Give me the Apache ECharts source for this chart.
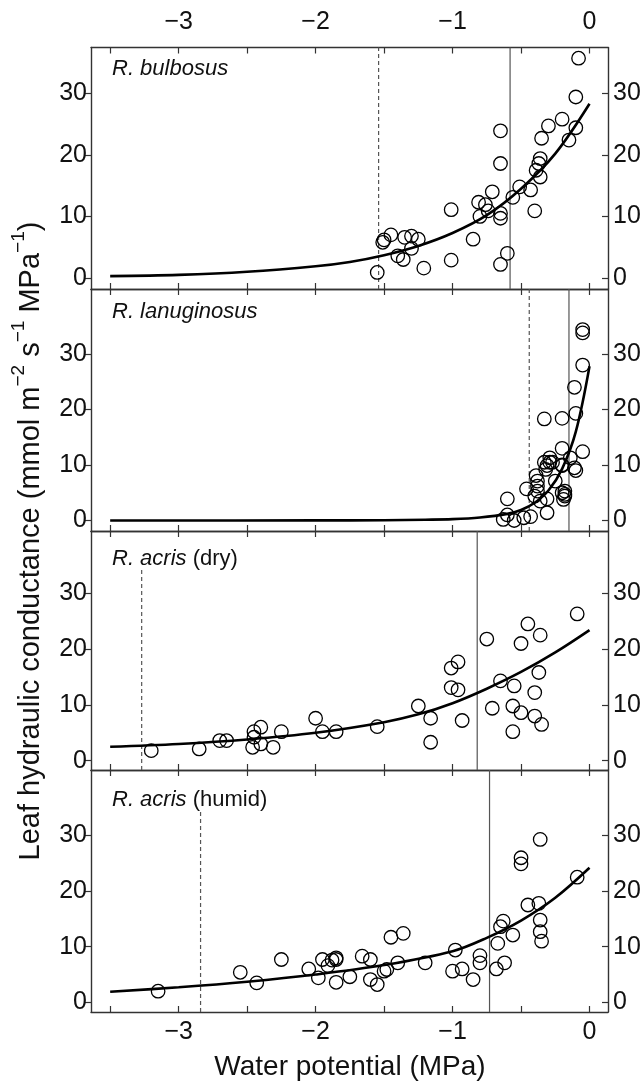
<!DOCTYPE html>
<html>
<head>
<meta charset="utf-8">
<script src="https://cdn.jsdelivr.net/npm/echarts@6/dist/echarts.min.js"></script>
<style>
  html, body { margin: 0; padding: 0; background: #fff; }
  #chart { width: 644px; height: 1081px; }
</style>
</head>
<body>
<div id="chart"></div>
<script>
// shared x axis (water potential, MPa)
const xMin = -3.64, xMax = 0.135;
const xTicks = [-3.5, -3, -2.5, -2, -1.5, -1, -0.5, 0];
const xLabels = [-3, -2, -1, 0];
const yTicks = [0, 10, 20, 30];

const speciesNames = ['R. bulbosus', 'R. lanuginosus', 'R. acris', 'R. acris'];
const speciesNotes = ['', '', '(dry)', '(humid)'];
const yMins = [-1.79, -1.89, -1.67, -1.74];
const yMaxs = [37.44, 41.71, 41.16, 41.78];

// vertical reference lines (MPa)
const solidX = [-0.58, -0.15, -0.82, -0.73];
const dashedX = [-1.54, -0.44, -3.27, -2.84];
const dashedTop = [37.44, 41.71, 34.5, 34.5];

// measured conductance points [water potential, Kleaf]
const bulbosusPts = [[-0.08,35.7],[-0.10,29.4],[-0.10,24.4],[-0.15,22.4],[-0.20,25.8],[-0.30,24.7],[-0.35,22.7],[-0.36,19.4],[-0.37,18.6],[-0.39,17.5],[-0.36,16.4],[-0.43,14.3],[-0.40,10.9],[-0.51,14.8],[-0.56,13.1],[-0.65,23.9],[-0.65,18.6],[-0.65,10.5],[-0.65,9.7],[-0.71,14.0],[-0.76,11.9],[-0.81,12.3],[-0.80,10.0],[-0.74,10.9],[-1.01,11.1],[-0.85,6.3],[-0.60,4.0],[-0.65,2.2],[-1.01,2.9],[-1.21,1.6],[-1.55,0.9],[-1.51,5.8],[-1.50,6.2],[-1.45,7.0],[-1.35,6.6],[-1.30,6.8],[-1.25,6.3],[-1.30,4.8],[-1.40,3.6],[-1.36,3.0]];
const lanuginosusPts = [[-0.05,34.4],[-0.05,33.8],[-0.05,28.0],[-0.11,24.0],[-0.10,19.3],[-0.20,18.4],[-0.33,18.3],[-0.20,13.0],[-0.05,12.4],[-0.14,11.3],[-0.11,9.5],[-0.10,9.0],[-0.20,10.0],[-0.18,5.3],[-0.18,4.4],[-0.19,3.8],[-0.33,10.5],[-0.29,11.3],[-0.27,10.5],[-0.60,3.9],[-0.63,0.2],[-0.60,1.0],[-0.55,0.0],[-0.48,0.5],[-0.43,0.7],[-0.46,5.7],[-0.39,8.1],[-0.38,7.1],[-0.38,6.2],[-0.38,5.3],[-0.40,4.4],[-0.36,3.5],[-0.31,3.9],[-0.31,1.4],[-0.31,9.9],[-0.25,7.1],[-0.20,9.9],[-0.20,5.0],[-0.18,4.7],[-0.32,9.2],[-0.29,10.5]];
const acrisDryPts = [[-0.09,26.3],[-0.45,24.5],[-0.36,22.5],[-0.75,21.8],[-0.50,21.0],[-0.96,17.7],[-1.01,16.6],[-0.37,15.8],[-0.65,14.3],[-0.55,13.4],[-1.01,13.1],[-0.96,12.7],[-0.40,12.2],[-0.71,9.4],[-0.56,9.8],[-0.50,8.6],[-0.40,8.0],[-0.35,6.5],[-0.56,5.2],[-0.93,7.2],[-1.16,7.6],[-1.16,3.3],[-1.25,9.8],[-1.55,6.1],[-1.85,5.2],[-1.95,5.2],[-2.00,7.6],[-2.25,5.2],[-2.31,2.4],[-2.40,6.0],[-2.45,5.2],[-2.45,4.2],[-2.46,2.4],[-2.40,3.0],[-2.65,3.6],[-2.70,3.6],[-2.85,2.1],[-3.20,1.8]];
const acrisHumidPts = [[-0.36,29.3],[-0.50,26.0],[-0.50,24.9],[-0.09,22.5],[-0.45,17.5],[-0.37,17.8],[-0.36,14.8],[-0.36,12.7],[-0.63,14.6],[-0.65,13.6],[-0.56,12.1],[-1.36,12.4],[-1.45,11.7],[-0.35,11.0],[-0.67,10.6],[-0.62,7.1],[-0.68,6.0],[-0.80,8.4],[-0.80,7.1],[-0.85,4.1],[-0.93,6.0],[-1.00,5.6],[-0.98,9.4],[-1.20,7.1],[-1.40,7.1],[-1.48,5.9],[-1.50,5.6],[-1.55,3.2],[-1.60,4.1],[-1.60,7.7],[-1.66,8.3],[-1.75,4.6],[-1.85,3.6],[-1.85,8.0],[-1.85,7.7],[-1.88,7.6],[-1.91,6.6],[-1.95,7.7],[-1.98,4.4],[-2.05,6.0],[-2.25,7.7],[-2.43,3.5],[-2.55,5.4],[-3.15,2.0]];

// fitted curves
const bulbosusFit = [[-3.5,0.3],[-3,0.5],[-2.5,1.0],[-2,1.9],[-1.75,2.6],[-1.5,3.7],[-1.25,5.2],[-1,7.3],[-0.75,10.2],[-0.5,14.5],[-0.25,20.2],[0,28.3]];
const lanuginosusFit = [[-3.5,0.0],[-2,0.02],[-1.5,0.06],[-1.2,0.15],[-1,0.25],[-0.8,0.55],[-0.6,1.2],[-0.5,1.9],[-0.4,3.2],[-0.3,5.4],[-0.2,9.3],[-0.1,16.0],[0,27.8]];
const acrisDryFit = [[-3.5,2.5],[-3,3.0],[-2.5,3.8],[-2,5.0],[-1.5,6.9],[-1.25,8.3],[-1,10.3],[-0.75,12.9],[-0.5,15.9],[-0.25,19.4],[0,23.4]];
const acrisHumidFit = [[-3.5,1.9],[-3,2.7],[-2.5,3.7],[-2,5.0],[-1.5,6.7],[-1,9.2],[-0.75,11.6],[-0.5,14.7],[-0.25,18.8],[0,24.2]];

const allPts = [bulbosusPts, lanuginosusPts, acrisDryPts, acrisHumidPts];
const allFits = [bulbosusFit, lanuginosusFit, acrisDryFit, acrisHumidFit];

const gridTops = [47.5, 289, 531, 770];
const gridHeights = [241.5, 242, 239, 242];
const FONT = '"Liberation Sans", Arial, sans-serif';
const AXIS_COLOR = '#333';

function fmt(v) {
  return v < 0 ? '\u2212' + Math.abs(v) : String(v);
}

let grids = [], xAxes = [], yAxes = [], series = [], graphics = [];

for (let i = 0; i < 4; i++) {
  grids.push({ left: 91, right: 36, top: gridTops[i], height: gridHeights[i] });

  ['bottom', 'top'].forEach(function (pos) {
    let showLab = (pos === 'top' && i === 0) || (pos === 'bottom' && i === 3);
    xAxes.push({
      type: 'value', gridIndex: i, position: pos, min: xMin, max: xMax,
      axisLine: { show: true, onZero: false, lineStyle: { color: AXIS_COLOR, width: 1.4 } },
      axisTick: { show: true, inside: true, length: 6, customValues: xTicks, lineStyle: { color: AXIS_COLOR, width: 1.2 } },
      axisLabel: { show: showLab, customValues: xLabels, formatter: fmt, fontSize: 25, color: '#111', fontFamily: FONT, margin: pos === 'top' ? 13 : 8 },
      splitLine: { show: false }
    });
  });

  ['left', 'right'].forEach(function (pos) {
    yAxes.push({
      type: 'value', gridIndex: i, position: pos, min: yMins[i], max: yMaxs[i],
      axisLine: { show: true, onZero: false, lineStyle: { color: AXIS_COLOR, width: 1.4 } },
      axisTick: { show: true, inside: pos === 'right', length: 6, customValues: yTicks, lineStyle: { color: AXIS_COLOR, width: 1.2 } },
      axisLabel: { customValues: yTicks, fontSize: 25, color: '#111', fontFamily: FONT, margin: pos === 'left' ? 4 : 5 },
      splitLine: { show: false }
    });
  });

  let xa = i * 2, ya = i * 2;
  series.push({
    type: 'line', xAxisIndex: xa, yAxisIndex: ya, symbol: 'none', silent: true, z: 1,
    data: [[solidX[i], yMins[i]], [solidX[i], yMaxs[i]]],
    lineStyle: { color: '#555', width: 1.2 }
  });
  series.push({
    type: 'line', xAxisIndex: xa, yAxisIndex: ya, symbol: 'none', silent: true, z: 1,
    data: [[dashedX[i], yMins[i]], [dashedX[i], dashedTop[i]]],
    lineStyle: { color: '#555', width: 1.2, type: [4, 3] }
  });
  series.push({
    type: 'line', xAxisIndex: xa, yAxisIndex: ya, symbol: 'none', smooth: 0.35, z: 3,
    data: allFits[i],
    lineStyle: { color: '#000', width: 2.6 }
  });
  series.push({
    type: 'scatter', xAxisIndex: xa, yAxisIndex: ya, symbol: 'circle', symbolSize: 13.5, z: 4,
    data: allPts[i],
    itemStyle: { color: 'rgba(0,0,0,0)', borderColor: '#000', borderWidth: 1.3, opacity: 1 }
  });

  graphics.push({
    type: 'text', x: 112, y: [69, 312, 559, 800][i],
    style: {
      text: '{i|' + speciesNames[i] + '}' + (speciesNotes[i] ? '{n| ' + speciesNotes[i] + '}' : ''),
      verticalAlign: 'middle', align: 'left',
      rich: {
        i: { fontStyle: 'italic', fontSize: 22, fontFamily: FONT, fill: '#111' },
        n: { fontSize: 22, fontFamily: FONT, fill: '#111' }
      }
    }
  });
}

// axis titles
graphics.push({
  type: 'text', x: 350, y: 1067,
  style: { text: 'Water potential (MPa)', font: '28px ' + FONT, fill: '#111', align: 'center', verticalAlign: 'middle' }
});
graphics.push({
  type: 'text', x: 27, y: 541, rotation: Math.PI / 2,
  style: {
    text: '{n|Leaf hydraulic conductance (mmol m}{s|\u22122}{n| s}{s|\u22121}{n| MPa}{s|\u22121}{n|)}',
    align: 'center', verticalAlign: 'middle',
    rich: {
      n: { fontSize: 29, fontFamily: FONT, fill: '#111', lineHeight: 36, verticalAlign: 'bottom' },
      s: { fontSize: 19, fontFamily: FONT, fill: '#111', lineHeight: 36, verticalAlign: 'top', padding: [0, 0, 12, 0] }
    }
  }
});

let myChart = echarts.init(document.getElementById('chart'));
myChart.setOption({
  animation: false,
  backgroundColor: '#fff',
  grid: grids,
  xAxis: xAxes,
  yAxis: yAxes,
  series: series,
  graphic: graphics
});
</script>
</body>
</html>
